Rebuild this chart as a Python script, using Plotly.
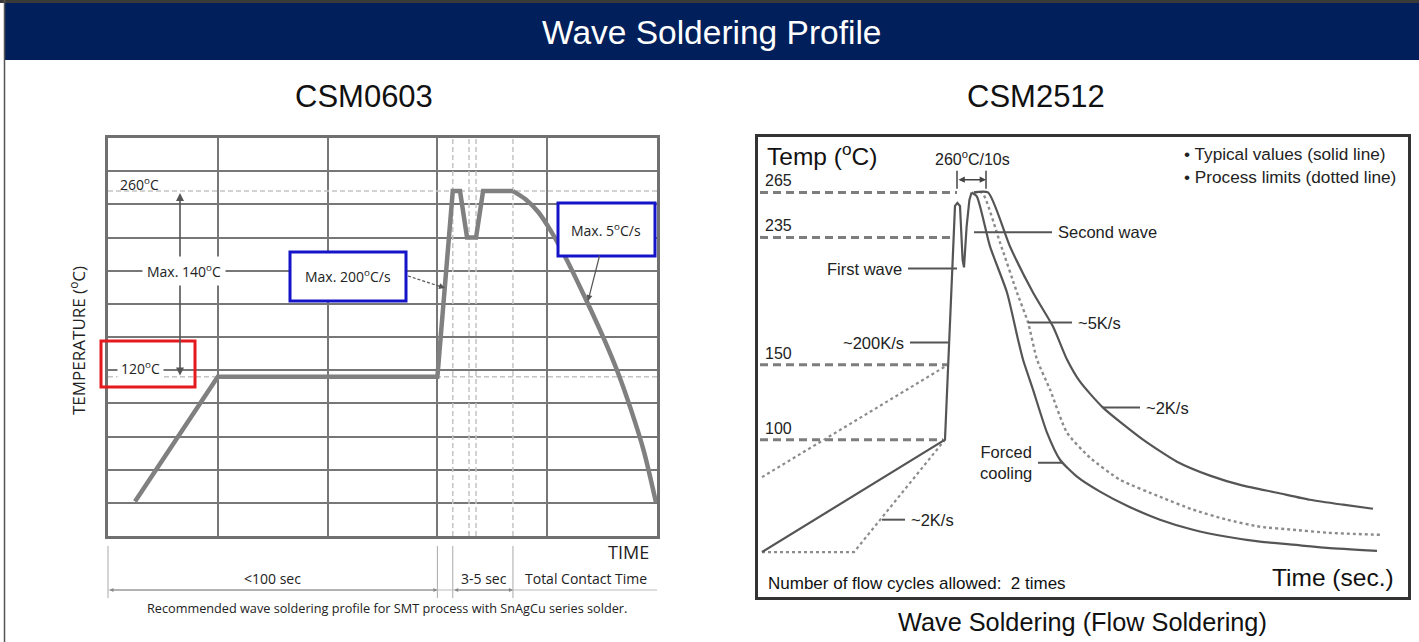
import plotly.graph_objects as go

W, H = 1419, 642

# ---------------- data: CSM0603 (left panel) ----------------
# time in arbitrary grid units (grid every 50), temperature in °C (grid every 25)
left_prof_time = [12.3, 50, 150, 157, 160.3, 163.5, 167.6, 170.8, 184.4]
left_prof_temp = [26, 120, 120, 260, 260, 225, 225, 260, 260]
left_cool_time = [184.4, 190, 196, 202, 208, 214, 220, 226, 232, 238, 244, 249.5]
left_cool_temp = [260, 254, 244, 229, 211, 191, 170, 148, 124, 96, 64, 25.6]
left_levels = [260, 120]
left_wave_marks = [157, 164.4, 167.6, 184.4]
left_phase_bounds = [0, 150, 157, 184.4, 250]

# ---------------- data: CSM2512 (right panel) ----------------
right_heat_time = [2, 93.5, 98.5, 99.7, 101, 102.3, 103, 104.3, 105.7, 106.8]
right_heat_temp = [25, 100, 256, 258, 256, 220, 215, 242, 260, 265]
right_fast_time = [106.8, 109.4, 116, 124.5, 130, 132.5, 137.5, 144.5, 151, 159.5, 171, 184.5, 201,
                   217.5, 234.5, 251, 267.5, 284.5, 309.5]
right_fast_temp = [265, 262.4, 229, 198.2, 166.8, 153.5, 133.4, 104.7, 86.6, 75.3, 65.3, 55.9, 46.6,
                   39.9, 35.2, 31.9, 29.9, 27.8, 25.8]
right_limit_cool_time = [108, 112, 121, 129.5, 135, 139.5, 146, 154.5, 166, 181, 201, 217.5, 234.5,
                         251, 267.5, 284.5, 311]
right_limit_cool_temp = [265, 265, 231.6, 198.2, 178.2, 153.5, 133.5, 104.7, 88, 73.3, 61.9, 53.3,
                         46.6, 41.9, 39.9, 37.9, 36.5]
right_slow_time = [108, 115, 126, 137.5, 147.5, 154.5, 161, 172.5, 192.5, 209.5, 226, 242.5, 259.5,
                   276, 292.5, 307.5]
right_slow_temp = [265, 265, 228.9, 198.2, 175.5, 153.5, 138.7, 121.4, 100, 85.3, 76, 69.3, 64.6,
                   59.9, 56.6, 53.9]
right_pre_upper_time = [2, 95]
right_pre_upper_temp = [75, 150]
right_pre_lower_time = [2, 48, 93.5]
right_pre_lower_temp = [25, 25, 100]
right_levels = [265, 235, 150, 100]
right_level_ends = [99.5, 97, 94.5, 92.5]

# leader labels: (text, t_start, t_end, temp, side)
right_leaders = [
    ("First wave", 75, 99.5, 214.2, "left"),
    ("Second wave", 108, 147, 238.5, "right"),
    ("~200K/s", 76, 95, 164.8, "left"),
    ("~5K/s", 135, 157, 178.2, "right"),
    ("~2K/s", 172.5, 191, 121.4, "right"),
    ("Forced<br>cooling", 140, 152.5, 84.6, "left"),
    ("~2K/s", 62, 73.5, 46.6, "right"),
]

# ---------------- helpers ----------------
def px(x):
    return x / W

def py(y):
    return 1 - y / H

L_X0, L_X1, L_Y0, L_Y1 = 108, 657, 138, 536
R_X0, R_X1, R_Y0, R_Y1 = 758, 1408, 137, 597

def lx(t):  # left data time -> pixel x (for elements below the axes)
    return L_X0 + t * (L_X1 - L_X0) / 250.0

ARIAL = "Liberation Sans, Arial, sans-serif"
OPEN = "Open Sans, sans-serif"

def label(x, y, text, size, family, color="#222222", xanchor="center", yanchor="middle", **kw):
    d = dict(xref="paper", yref="paper", x=px(x), y=py(y), text=text, showarrow=False,
             xanchor=xanchor, yanchor=yanchor, font=dict(family=family, size=size, color=color))
    d.update(kw)
    return d

def arrow(x, y, ax, ay, color="#555555", width=1.2, both=False, size=1.0):
    d = dict(xref="paper", yref="paper", x=px(x), y=py(y), ax=ax, ay=ay, text="",
             showarrow=True, arrowhead=2, arrowsize=size, arrowwidth=width, arrowcolor=color,
             xanchor="center", yanchor="middle")
    if both:
        d["arrowside"] = "end+start"
    return d

fig = go.Figure()

# ---------------- left traces ----------------
for lv in left_levels:
    fig.add_trace(go.Scatter(x=[0, 250], y=[lv, lv], mode="lines",
                             line=dict(color="#c4c4c4", width=1.5, dash="5px,3px"),
                             xaxis="x", yaxis="y", hoverinfo="skip"))
for t in left_wave_marks:
    fig.add_trace(go.Scatter(x=[t, t], y=[0, 300], mode="lines",
                             line=dict(color="#c4c4c4", width=1.5, dash="5px,3px"),
                             xaxis="x", yaxis="y", hoverinfo="skip"))
fig.add_trace(go.Scatter(x=left_prof_time, y=left_prof_temp, mode="lines",
                         line=dict(color="#808080", width=4.5),
                         xaxis="x", yaxis="y", hoverinfo="skip"))
fig.add_trace(go.Scatter(x=left_cool_time, y=left_cool_temp, mode="lines",
                         line=dict(color="#808080", width=4.5, shape="spline", smoothing=0.8),
                         xaxis="x", yaxis="y", hoverinfo="skip"))

# ---------------- right traces ----------------
for lv, te in zip(right_levels, right_level_ends):
    fig.add_trace(go.Scatter(x=[1, te], y=[lv, lv], mode="lines",
                             line=dict(color="#7d7d7d", width=3, dash="8px,5px"),
                             xaxis="x2", yaxis="y2", hoverinfo="skip"))
fig.add_trace(go.Scatter(x=right_pre_upper_time, y=right_pre_upper_temp, mode="lines",
                         line=dict(color="#8c8c8c", width=2.2, dash="dot"),
                         xaxis="x2", yaxis="y2", hoverinfo="skip"))
fig.add_trace(go.Scatter(x=right_pre_lower_time, y=right_pre_lower_temp, mode="lines",
                         line=dict(color="#8c8c8c", width=2.2, dash="dot"),
                         xaxis="x2", yaxis="y2", hoverinfo="skip"))
fig.add_trace(go.Scatter(x=right_limit_cool_time, y=right_limit_cool_temp, mode="lines",
                         line=dict(color="#8c8c8c", width=2.4, dash="dot", shape="spline", smoothing=0.6),
                         xaxis="x2", yaxis="y2", hoverinfo="skip"))
fig.add_trace(go.Scatter(x=right_heat_time, y=right_heat_temp, mode="lines",
                         line=dict(color="#555555", width=2.2),
                         xaxis="x2", yaxis="y2", hoverinfo="skip"))
fig.add_trace(go.Scatter(x=right_fast_time, y=right_fast_temp, mode="lines",
                         line=dict(color="#555555", width=2.2, shape="spline", smoothing=0.6),
                         xaxis="x2", yaxis="y2", hoverinfo="skip"))
fig.add_trace(go.Scatter(x=right_slow_time, y=right_slow_temp, mode="lines",
                         line=dict(color="#555555", width=2.2, shape="spline", smoothing=0.6),
                         xaxis="x2", yaxis="y2", hoverinfo="skip"))

shapes = []
ann = []

# ---------------- page chrome ----------------
shapes.append(dict(type="rect", xref="paper", yref="paper", x0=0, x1=1, y0=py(3), y1=1,
                   fillcolor="#3a3a3a", line=dict(width=0), layer="below"))
shapes.append(dict(type="rect", xref="paper", yref="paper", x0=px(5), x1=1, y0=py(60), y1=py(3),
                   fillcolor="#001f5b", line=dict(width=0), layer="below"))
shapes.append(dict(type="line", xref="paper", yref="paper", x0=px(4.5), x1=px(4.5), y0=0, y1=1,
                   line=dict(color="#555555", width=1.5)))
ann.append(label(712, 33, "Wave Soldering Profile", 33.5, ARIAL, color="white"))
ann.append(label(364, 96, "CSM0603", 31, ARIAL, color="#111111"))
ann.append(label(1036, 96, "CSM2512", 31, ARIAL, color="#111111"))

# ---------------- left annotations ----------------
ann.append(label(139, 184, "260<sup>o</sup>C", 14, OPEN))
ann.append(arrow(180, 193, 0, 184, width=1.6, both=True))
ann.append(label(184, 271, "Max. 140<sup>o</sup>C", 14, OPEN, bgcolor="white", borderpad=4))
ann.append(label(140, 368, "120<sup>o</sup>C", 14, OPEN, bgcolor="white", borderpad=3))
shapes.append(dict(type="rect", xref="paper", yref="paper", x0=px(101), x1=px(195), y0=py(387), y1=py(341),
                   line=dict(color="#e3191f", width=3), layer="above"))
shapes.append(dict(type="rect", xref="paper", yref="paper", x0=px(290), x1=px(406), y0=py(301), y1=py(252),
                   line=dict(color="#1414c8", width=3), fillcolor="white", layer="above"))
shapes.append(dict(type="rect", xref="paper", yref="paper", x0=px(558), x1=px(655), y0=py(256), y1=py(203),
                   line=dict(color="#1414c8", width=3), fillcolor="white", layer="above"))
ann.append(label(348, 276, "Max. 200<sup>o</sup>C/s", 14, OPEN))
ann.append(label(606, 230, "Max. 5<sup>o</sup>C/s", 14, OPEN))
# dashed leader arrow for Max. 200
shapes.append(dict(type="line", xref="paper", yref="paper", x0=px(408), y0=py(276), x1=px(440), y1=py(286.4),
                   line=dict(color="#555555", width=1.2, dash="3px,2px"), layer="above"))
ann.append(arrow(445, 288, -8, -2.6))
ann.append(arrow(588, 301, 12, -47))
ann.append(label(77, 341, "TEMPERATURE (<sup>o</sup>C)", 17, OPEN, textangle=-90))
ann.append(label(651, 552, "TIME", 18, OPEN, xanchor="right"))
for t in left_phase_bounds[:4]:
    shapes.append(dict(type="line", xref="paper", yref="paper", x0=px(lx(t)), x1=px(lx(t)),
                       y0=py(598), y1=py(546), line=dict(color="#aaaaaa", width=1)))
shapes.append(dict(type="line", xref="paper", yref="paper", x0=px(lx(0)), x1=px(lx(250)),
                   y0=py(590), y1=py(590), line=dict(color="#bbbbbb", width=1)))
ann.append(arrow(lx(left_phase_bounds[1]), 590, lx(left_phase_bounds[0]) - lx(left_phase_bounds[1]), 0,
                 color="#888888", width=1, both=True, size=0.8))
ann.append(arrow(lx(left_phase_bounds[3]), 590, lx(left_phase_bounds[2]) - lx(left_phase_bounds[3]), 0,
                 color="#888888", width=1, both=True, size=0.8))
ann.append(label(272, 578, "&lt;100 sec", 14, OPEN))
ann.append(label(484, 578, "3-5 sec", 14, OPEN))
ann.append(label(586, 578, "Total Contact Time", 14, OPEN))
ann.append(label(387, 608, "Recommended wave soldering profile for SMT process with SnAgCu series solder.",
                 12.7, OPEN))

# ---------------- right annotations ----------------
ann.append(label(765, 154, "Temp (<sup>o</sup>C)", 24.5, ARIAL, color="#111111", xanchor="left"))
for lv in right_levels:
    ann.append(dict(xref="x2", yref="y2", x=2.5, y=lv, text=str(lv), xanchor="left", yanchor="bottom",
                    yshift=1, showarrow=False, font=dict(family=ARIAL, size=16, color="#222222")))
ann.append(label(972, 158, "260<sup>o</sup>C/10s", 16, ARIAL))
for tb in (99.5, 114):
    shapes.append(dict(type="line", xref="x2", yref="y2", x0=tb, x1=tb, y0=267.5, y1=279.5,
                       line=dict(color="#444444", width=1.5)))
ann.append(dict(xref="x2", yref="y2", x=114, y=273.5, ax=99.5, ay=273.5, axref="x2", ayref="y2",
                text="", showarrow=True, arrowhead=2, arrowside="end+start", arrowsize=0.9,
                arrowwidth=1.4, arrowcolor="#444444"))
for text, t0, t1, temp, side in right_leaders:
    shapes.append(dict(type="line", xref="x2", yref="y2", x0=t0, x1=t1, y0=temp, y1=temp,
                       line=dict(color="#555555", width=2)))
    if side == "left":
        ann.append(dict(xref="x2", yref="y2", x=t0, y=temp, text=text, xanchor="right", yanchor="middle",
                        xshift=-4, align="center", showarrow=False,
                        font=dict(family=ARIAL, size=16.5, color="#222222")))
    else:
        ann.append(dict(xref="x2", yref="y2", x=t1, y=temp, text=text, xanchor="left", yanchor="middle",
                        xshift=4, showarrow=False, font=dict(family=ARIAL, size=16.5, color="#222222")))
ann.append(label(1182, 154, "\u2022 Typical values (solid line)", 17.2, ARIAL, xanchor="left"))
ann.append(label(1182, 177, "\u2022 Process limits (dotted line)", 17.2, ARIAL, xanchor="left"))
ann.append(label(766, 583, "Number of flow cycles allowed:\u00a0 2 times", 17, ARIAL, color="#111111",
                 xanchor="left"))
ann.append(label(1396, 577, "Time (sec.)", 24.5, ARIAL, color="#111111", xanchor="right"))
ann.append(label(1082, 622, "Wave Soldering (Flow Soldering)", 25.3, ARIAL, color="#111111"))

axis_common = dict(showticklabels=False, ticks="", zeroline=False, fixedrange=True, mirror=True,
                   showline=True)

fig.update_layout(
    width=W, height=H, margin=dict(l=0, r=0, t=0, b=0),
    paper_bgcolor="white", plot_bgcolor="white", showlegend=False,
    xaxis=dict(domain=[px(L_X0), px(L_X1)], range=[0, 250], dtick=50, tick0=0, showgrid=True,
               gridcolor="#777777", gridwidth=1.5, linecolor="#707070", linewidth=3, anchor="y",
               **axis_common),
    yaxis=dict(domain=[py(L_Y1), py(L_Y0)], range=[0, 300], dtick=25, tick0=0, showgrid=True,
               gridcolor="#777777", gridwidth=1.5, linecolor="#707070", linewidth=3, anchor="x",
               **axis_common),
    xaxis2=dict(domain=[px(R_X0), px(R_X1)], range=[0, 325], showgrid=False,
                linecolor="#333333", linewidth=3, anchor="y2", **axis_common),
    yaxis2=dict(domain=[py(R_Y1), py(R_Y0)], range=[-5, 302], showgrid=False,
                linecolor="#333333", linewidth=3, anchor="x2", **axis_common),
    shapes=shapes, annotations=ann,
)

fig.write_html("out.html", config={"displayModeBar": False},
               post_script="document.body.style.margin='0';")
